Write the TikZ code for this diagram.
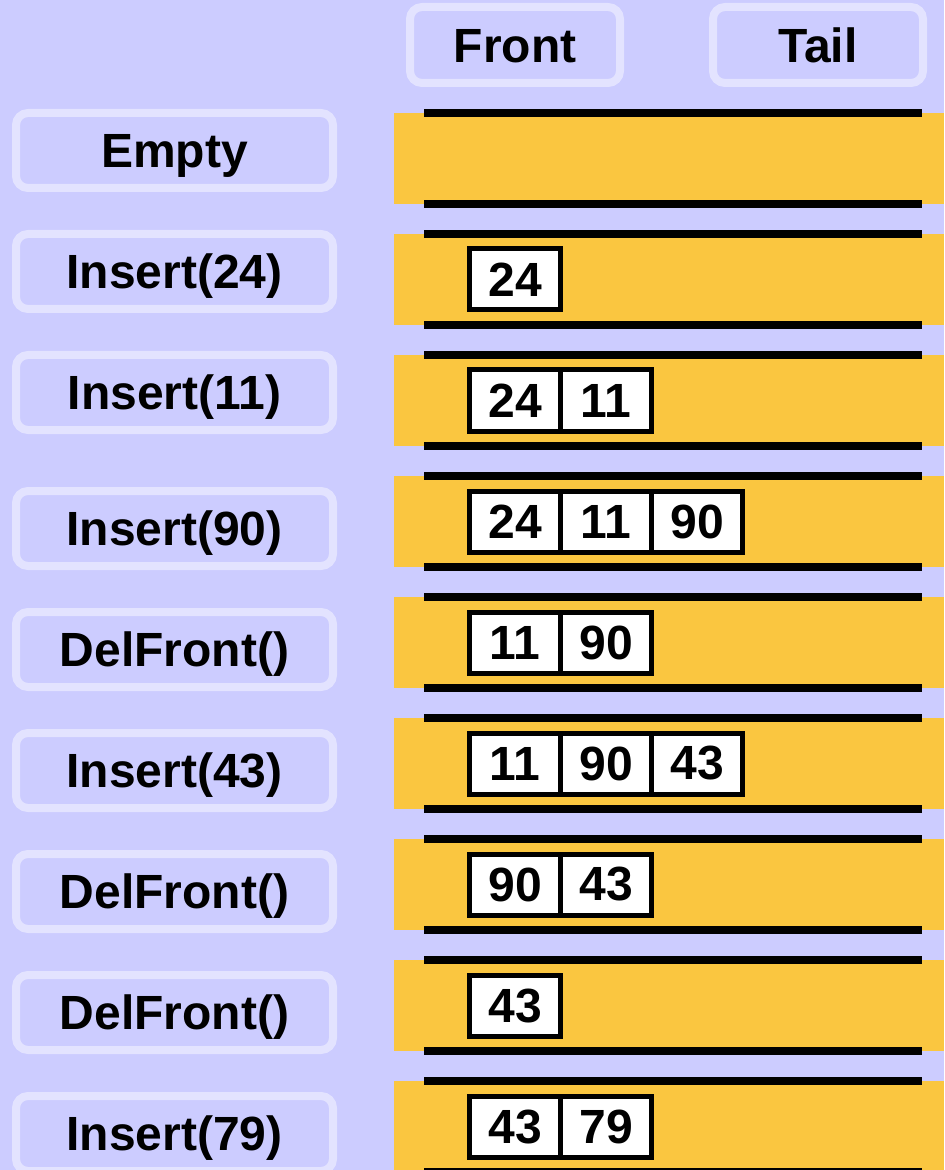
\documentclass[tikz,border=0pt]{standalone}
\usepackage{fontspec}
\setmainfont{Liberation Sans}
\usepackage{xcolor}
\usepackage{tikz}
\usetikzlibrary{positioning}

\definecolor{lavender}{HTML}{CCCCFF}
\definecolor{rim}{HTML}{E3E3FF}
\definecolor{band}{HTML}{FAC640}

\begin{document}
\begin{tikzpicture}[x=0.5pt,y=-0.5pt,
  font=\fontsize{24}{29}\selectfont\bfseries,
  opbox/.style={draw=rim,line width=4pt,rounded corners=6pt,fill=lavender,
    minimum width=158.5pt,minimum height=37.5pt,inner sep=0pt,
    text height=17.2pt,text depth=0pt},
  headbox/.style={opbox,minimum width=105pt,minimum height=38pt},
  cell/.style={draw,line width=2.5pt,fill=white,minimum width=45.5pt,
    minimum height=30.5pt,inner sep=0pt,outer sep=0pt}]
\fill[lavender] (0,0) rectangle (944,1170);
\useasboundingbox (0,0) rectangle (944,1170);
\node[headbox] (front) at (515,45) {Front};
\node[headbox] (tail) at (818,45) {Tail};
% one row per operation: label, band, queue contents
\foreach \op/\dy/\vals [count=\r from 0] in {Empty/0/{},Insert(24)/0/{24},
    Insert(11)/0/{24,11},Insert(90)/15/{24,11,90},DelFront()/15/{11,90},
    Insert(43)/15/{11,90,43},DelFront()/15/{90,43},DelFront()/15/{43},
    Insert(79)/15/{43,79}}
{
  \pgfmathsetmacro\yc{158.5+121*\r}
  \fill[band] (394,\yc-45.5) rectangle (944,\yc+45.5);
  \draw[line width=4.2pt] (424,\yc-45.5) -- (922,\yc-45.5)
    (424,\yc+45.5) -- (922,\yc+45.5);
  \node[opbox] (op\r) at (174.5,\yc-8+\dy) {\op};
  \ifx\vals\empty\else
    \foreach \v [count=\k from 0] in \vals
      \node[cell] (cell\r-\k) at (515+91*\k,\yc) {\v};
  \fi
}
\end{tikzpicture}
\end{document}
